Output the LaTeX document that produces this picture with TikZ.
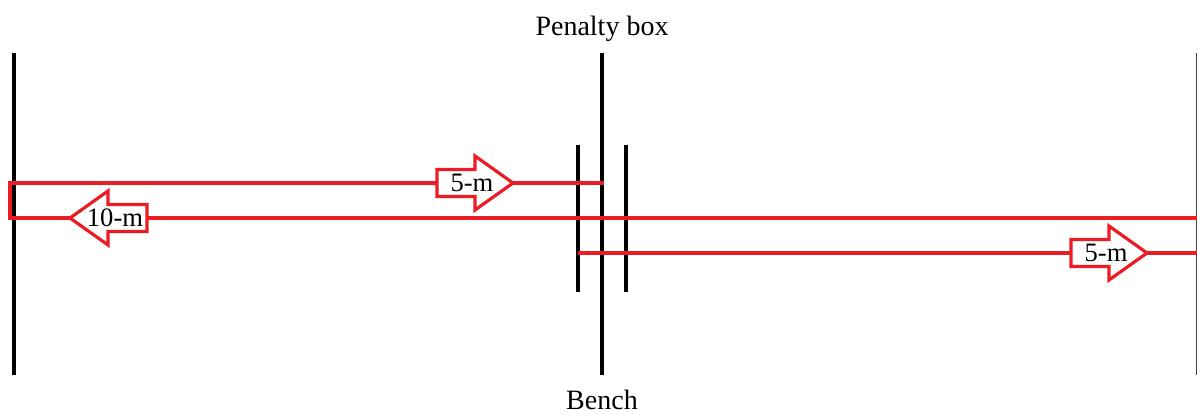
\documentclass[tikz,border=0pt]{standalone}
\usepackage{fontspec}
\setmainfont{Liberation Serif}
\definecolor{pathred}{RGB}{235,28,36}
\begin{document}
\begin{tikzpicture}[x=0.5pt,y=-0.5pt,
  boardline/.style={line width=2pt,black},
  edgeline/.style={line width=1.5pt,black!75},
  redline/.style={line width=1.6pt,pathred,line join=miter},
  caption/.style={font=\fontsize{14pt}{16pt}\selectfont,anchor=base,inner sep=0pt},
  lbl/.style={font=\fontsize{13.3pt}{15pt}\selectfont,inner sep=0pt},
  rarrow/.pic={
    \draw[redline,fill=white] (0,0) -- (-38,-27) -- (-38,-13.5) -- (-76,-13.5)
      -- (-76,13.5) -- (-38,13.5) -- (-38,27) -- cycle;
    \node[lbl] (-text) at (-41,0) {#1};
  },
  larrow/.pic={
    \draw[redline,fill=white] (0,0) -- (38,-27) -- (38,-13.5) -- (77,-13.5)
      -- (77,13.5) -- (38,13.5) -- (38,27) -- cycle;
    \node[lbl] (-text) at (45,0) {#1};
  }]
\useasboundingbox (0,0) rectangle (1197,414);
\clip (0,0) rectangle (1197,414);

% rink boards
\coordinate (leftTop) at (13.5,53);   \coordinate (leftBot) at (13.5,375);
\coordinate (midTop) at (602,53);     \coordinate (midBot) at (602,375);
\coordinate (gateLTop) at (578,145);  \coordinate (gateLBot) at (578,292);
\coordinate (gateRTop) at (626,145);  \coordinate (gateRBot) at (626,292);
\coordinate (rightTop) at (1197.8,53); \coordinate (rightBot) at (1197.8,375);
\draw[boardline] (leftTop) -- (leftBot);
\draw[boardline] (midTop) -- (midBot);
\draw[boardline] (gateLTop) -- (gateLBot);
\draw[boardline] (gateRTop) -- (gateRBot);
\draw[edgeline] (rightTop) -- (rightBot);

% skating paths
\coordinate (p1) at (604,183);
\coordinate (p2) at (10,183);
\coordinate (p3) at (10,218);
\coordinate (p4) at (1197,218);
\coordinate (q1) at (578,253);
\coordinate (q2) at (1197,253);
\draw[redline] (p1) -- (p2) -- (p3) -- (p4);
\draw[redline] (q1) -- (q2);

% direction markers
\pic (topArrow) at (513,183) {rarrow={5-m}};
\pic (leftArrow) at (70,218) {larrow={10-m}};
\pic (lowArrow) at (1147,253) {rarrow={5-m}};

% captions
\node[caption] (penalty) at (602,35) {Penalty box};
\node[caption] (bench) at (602,409) {Bench};
\end{tikzpicture}
\end{document}
